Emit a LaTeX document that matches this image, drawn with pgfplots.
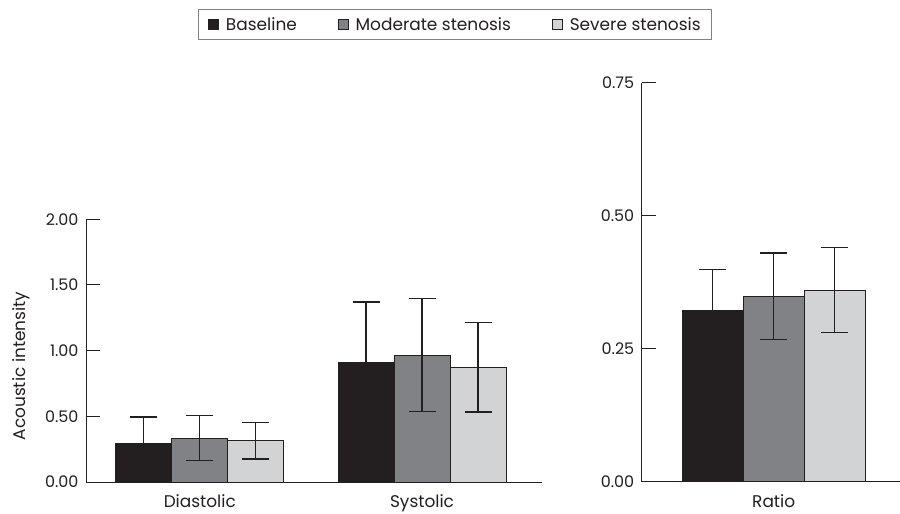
\documentclass[border=0pt]{standalone}
\usepackage{fontspec}
\setmainfont{Poppins}
\usepackage{pgfplots}
\pgfplotsset{compat=1.18}
\definecolor{cBase}{HTML}{231F20}
\definecolor{cMod}{HTML}{808285}
\definecolor{cSev}{HTML}{D1D3D4}
\definecolor{cTxt}{HTML}{231F20}
\pgfplotsset{
  myax/.style={
    scale only axis,
    axis x line*=bottom, axis y line*=left,
    axis line style={cBase, line width=1bp, -},
    ymin=0,
    ybar=0pt,
    tick align=inside,
    ytick pos=left,
    major tick length=14bp,
    major y tick style={cBase, line width=1bp},
    major x tick style={draw=none},
    /pgf/number format/assume math mode=true,
    yticklabel style={/pgf/number format/fixed, /pgf/number format/precision=2, /pgf/number format/fixed zerofill, font=\fontsize{16}{19}\selectfont, text=cTxt, xshift=-4bp},
    xticklabel style={font=\fontsize{17}{20}\selectfont, text=cTxt, yshift=-9bp},
    error bars/y dir=both, error bars/y explicit,
    error bars/error bar style={cBase, line width=1.2bp},
    error bars/error mark options={rotate=90, mark size=13.5bp, line width=1.2bp, cBase},
  },
}
\begin{document}
\begin{tikzpicture}
\path[use as bounding box] (0,0) rectangle (900bp,-514bp);
\begin{axis}[myax,
  at={(86bp,-482bp)}, anchor=south west,
  width=456bp, height=262.7bp,
  ymax=2.0, ytick={0,0.5,1,1.5,2},
  xmin=-0.512, xmax=1.54,
  xtick={0,1}, xticklabels={Diastolic,Systolic},
  bar width=56bp,
  legend columns=3,
  legend style={at={(0.809,1.7416)}, anchor=center, draw=cMod, line width=0.9bp,
    font=\fontsize{17}{20}\selectfont, text=cTxt,
    inner xsep=10bp, inner ysep=7bp,
    nodes={inner sep=1bp},
    /tikz/every odd column/.append style={column sep=6bp},
    /tikz/every even column/.append style={column sep=40bp}},
  legend image code/.code={\draw[#1, line width=0.8bp] (0bp,-5bp) rectangle (10bp,5bp);},
]
\addplot[fill=cBase, draw=cBase, line width=1bp] coordinates {(0,0.29) +- (0,0.205) (1,0.91) +- (0,0.46)};
\addplot[fill=cMod, draw=cBase, line width=1bp] coordinates {(0,0.335) +- (0,0.17) (1,0.965) +- (0,0.43)};
\addplot[fill=cSev, draw=cBase, line width=1bp] coordinates {(0,0.315) +- (0,0.14) (1,0.873) +- (0,0.34)};
\legend{Baseline, Moderate stenosis, Severe stenosis}
\end{axis}
\begin{axis}[myax,
  at={(641.7bp,-481.7bp)}, anchor=south west,
  width=258.3bp, height=399bp,
  ymax=0.75, ytick={0,0.25,0.5,0.75},
  xmin=-1, xmax=0.957,
  xtick={0}, xticklabels={Ratio},
  bar width=61bp,
]
\addplot[fill=cBase, draw=cBase, line width=1bp] coordinates {(0,0.321) +- (0,0.078)};
\addplot[fill=cMod, draw=cBase, line width=1bp] coordinates {(0,0.349) +- (0,0.081)};
\addplot[fill=cSev, draw=cBase, line width=1bp] coordinates {(0,0.360) +- (0,0.080)};
\end{axis}
\node[rotate=90, font=\fontsize{17}{20}\selectfont, text=cTxt] at (21bp,-366bp) {Acoustic intensity};
\end{tikzpicture}
\end{document}
